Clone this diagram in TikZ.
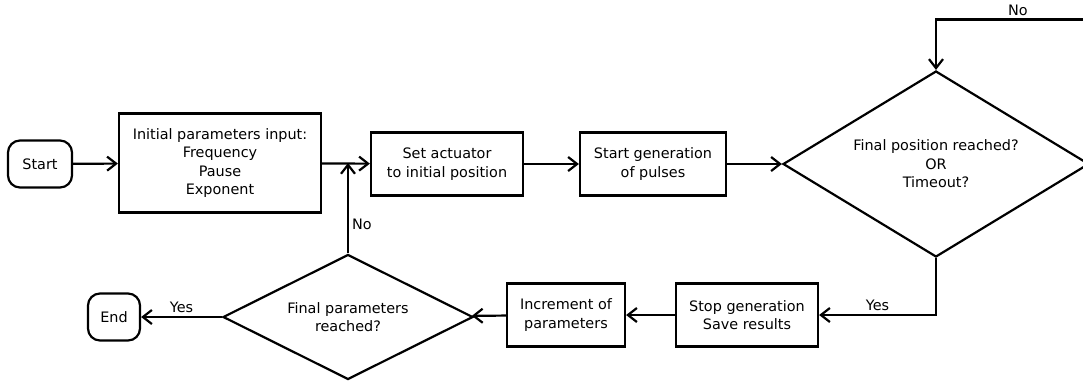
\documentclass[tikz,border=0pt]{standalone}
\usepackage{fontspec}
\setmainfont{DejaVu Sans}
\usetikzlibrary{shapes.geometric,arrows.meta}
\begin{document}
\begin{tikzpicture}[x=0.5pt,y=-0.5pt,line width=1.1pt,
    >={Straight Barb[length=4.5pt,width=7pt]},
    every node/.style={font=\fontsize{7.2}{9.2}\selectfont},
    term/.style={draw,rounded corners=6pt,minimum width=32pt,minimum height=23.5pt,inner sep=0pt,align=center},
    box/.style={draw,minimum height=31.5pt,inner sep=0pt,align=center},
    test/.style={draw,diamond,inner sep=0pt,align=center},
    lbl/.style={inner sep=1.5pt}]
      \useasboundingbox (0,0) rectangle (1083,381);
      \clip (0,0) rectangle (1083,381);
      \draw
        (40,164) node[term] (start){Start}
        (220,163) node[box,minimum width=101pt,minimum height=49.5pt] (init){Initial parameters input:\\Frequency\\Pause\\Exponent}
        (447,164) node[box,minimum width=76pt] (setact){Set actuator\\to initial position}
        (653,164) node[box,minimum width=73pt] (startgen){Start generation\\of pulses}
        (936,164) node[test,aspect=1.645,minimum width=153pt,minimum height=93pt] (check){Final position reached?\\OR\\Timeout?}
        (747,315) node[box,minimum width=71pt] (stopgen){Stop generation\\Save results}
        (566,315) node[box,minimum width=59pt] (incr){Increment of\\parameters}
        (348,317) node[test,aspect=2,minimum width=125pt,minimum height=62.5pt] (final){Final parameters\\reached?}
        (114,317) node[term,minimum width=26pt] (end){End};
      \coordinate (join) at (final.north |- init.east);
      \coordinate (loop) at (1100,19.5);
      \begin{scope}[->]
        \draw (start) to (init);
        \draw (init) to (setact);
        \draw (setact) to (startgen);
        \draw (startgen) to (check);
        \draw (check.south) |- node[lbl,pos=0.75,above] (yes1){Yes} (stopgen);
        \draw (stopgen) to (incr);
        \draw (incr) to (final);
        \draw (final) to node[lbl,above] (yes2){Yes} (end);
        \draw (final.north) to node[lbl,pos=0.32,right] (no1){No} (join);
        \draw (check.east) -| (loop) -| node[lbl,pos=0.25,above] (no2){No} (check.north);
      \end{scope}
    \end{tikzpicture}
\end{document}
